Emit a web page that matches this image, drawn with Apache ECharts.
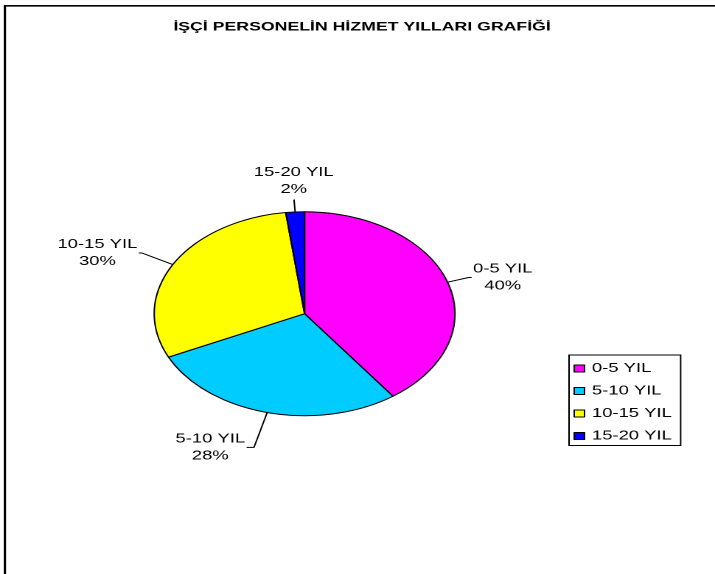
<!DOCTYPE html>
<html>
<head>
<meta charset="utf-8">
<script src="https://cdn.jsdelivr.net/npm/echarts@6/dist/echarts.min.js"></script>
<style>
  html, body { margin: 0; padding: 0; background: #fff; overflow: hidden; }
  /* the original chart was stretched sideways: draw narrow, then stretch */
  #chart { width: 485px; height: 574px; transform: scaleX(1.4742); transform-origin: 0 0; }
</style>
</head>
<body>
<div id="chart"></div>
<script>
// veriler
const categories = ['0-5 YIL', '5-10 YIL', '10-15 YIL', '15-20 YIL'];
const shares = [40, 28, 30, 2]; // yüzde
const titleText = 'İŞÇİ PERSONELİN HİZMET YILLARI GRAFİĞİ';

const sliceColors = ['#FF00FF', '#00CCFF', '#FFFF00', '#0000FF'];
// leader line lengths per slice (first segment, horizontal tail)
const leader = [[15, 2], [36, 5], [24, 2], [12, 0.2]];

const chart = echarts.init(document.getElementById('chart'), null, {devicePixelRatio: 2});
const font = '"Liberation Sans", Arial, sans-serif';

const option = {
  animation: false,
  backgroundColor: '#fff',
  graphic: [
    {
      type: 'rect',
      shape: {x: 3.3, y: 5.8, width: 700, height: 700},
      style: {fill: 'none', stroke: '#000', lineWidth: 1.6},
      silent: true
    },
    {
      type: 'text',
      x: 245.6,
      y: 27,
      style: {
        text: titleText,
        fontFamily: font,
        fontWeight: 'bold',
        fontSize: 12,
        fill: '#000',
        align: 'center',
        verticalAlign: 'middle'
      }
    }
  ],
  legend: {
    orient: 'vertical',
    left: 386,
    top: 355,
    padding: [7, 6, 3, 3],
    itemWidth: 7,
    itemHeight: 7,
    itemGap: 9.5,
    icon: 'rect',
    borderColor: '#000',
    borderWidth: 1,
    backgroundColor: '#fff',
    selectedMode: false,
    itemStyle: {borderColor: '#000', borderWidth: 1},
    textStyle: {fontFamily: font, fontSize: 12.5, color: '#000'},
    data: categories
  },
  series: [{
    type: 'pie',
    center: [206.6, 313.7],
    radius: 102,
    startAngle: 90,
    clockwise: true,
    silent: true,
    emphasis: {disabled: true},
    itemStyle: {borderColor: '#000', borderWidth: 1},
    label: {
      show: true,
      position: 'outside',
      fontFamily: font,
      fontSize: 12.5,
      lineHeight: 17,
      color: '#000',
      distanceToLabelLine: 1,
      formatter: (p) => p.name + '\n' + Math.round(p.percent) + '%'
    },
    labelLine: {show: true, lineStyle: {color: '#000', width: 1}},
    // center the two text lines; a label with no tail sits right above its line
    labelLayout: (p) => {
      const pts = p.labelLinePoints;
      const r = p.labelRect;
      if (!pts) return {};
      const end = pts[pts.length - 1];
      const prev = pts[pts.length - 2];
      if (Math.abs(end[0] - prev[0]) < 0.5) {
        const up = end[1] < pts[0][1];
        return {
          x: end[0],
          y: up ? end[1] - r.height / 2 - 2 : end[1] + r.height / 2 + 2,
          align: 'center',
          verticalAlign: 'middle',
          labelLinePoints: pts
        };
      }
      return {
        x: r.x + r.width / 2,
        y: r.y + r.height / 2,
        align: 'center',
        verticalAlign: 'middle',
        labelLinePoints: pts
      };
    },
    data: categories.map((name, i) => ({
      name,
      value: shares[i],
      itemStyle: {color: sliceColors[i]},
      labelLine: {length: leader[i][0], length2: leader[i][1]}
    }))
  }]
};

chart.setOption(option);
</script>
</body>
</html>
